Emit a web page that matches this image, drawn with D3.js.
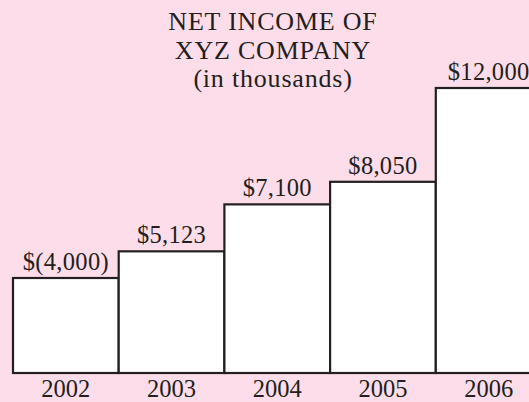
<!DOCTYPE html>
<html>
<head>
<meta charset="utf-8">
<script src="https://cdn.jsdelivr.net/npm/d3@7"></script>
<style>
  html, body { margin: 0; padding: 0; background: #fcdde9; }
  svg { display: block; }
  text { font-family: "Liberation Serif", "Times New Roman", serif; fill: #231f20; }
</style>
</head>
<body>
<svg id="chart" width="529" height="402"></svg>
<script>
// Net income by year, in thousands of dollars
const years = ["2002", "2003", "2004", "2005", "2006"];
const income = [-4000, 5123, 7100, 8050, 12000];
const valueLabels = ["$(4,000)", "$5,123", "$7,100", "$8,050", "$12,000"];
const titleLines = ["NET INCOME OF", "XYZ COMPANY", "(in thousands)"];

const svg = d3.select("#chart");

const baseline = 373;
const x = d3.scaleBand()
  .domain(years)
  .range([13, 541.5])
  .paddingInner(0)
  .paddingOuter(0);

// Bar height shows the size of the amount
const y = d3.scaleLinear()
  .domain([0, 12000])
  .range([baseline, 88]);

const rows = years.map((yr, i) => ({ yr, v: income[i], label: valueLabels[i] }));

svg.append("g").selectAll("rect")
  .data(rows)
  .join("rect")
  .attr("x", d => x(d.yr))
  .attr("y", d => y(Math.abs(d.v)))
  .attr("width", x.bandwidth())
  .attr("height", d => baseline - y(Math.abs(d.v)))
  .attr("fill", "#ffffff")
  .attr("stroke", "#231f20")
  .attr("stroke-width", 2.2);

svg.append("g").selectAll("text")
  .data(rows)
  .join("text")
  .attr("x", d => x(d.yr) + x.bandwidth() / 2)
  .attr("y", d => y(Math.abs(d.v)) - 8)
  .attr("text-anchor", "middle")
  .attr("font-size", 24.5)
  .attr("letter-spacing", 0.3)
  .text(d => d.label);

// Year labels beneath the bars
svg.append("g").selectAll("text")
  .data(rows)
  .join("text")
  .attr("x", d => x(d.yr) + x.bandwidth() / 2)
  .attr("y", 397)
  .attr("text-anchor", "middle")
  .attr("font-size", 24.5)
  .text(d => d.yr);

svg.append("g").selectAll("text")
  .data(titleLines)
  .join("text")
  .attr("x", 273)
  .attr("y", (d, i) => 30 + i * 28.5)
  .attr("text-anchor", "middle")
  .attr("font-size", 26)
  .attr("letter-spacing", 0.8)
  .text(d => d);
</script>
</body>
</html>
